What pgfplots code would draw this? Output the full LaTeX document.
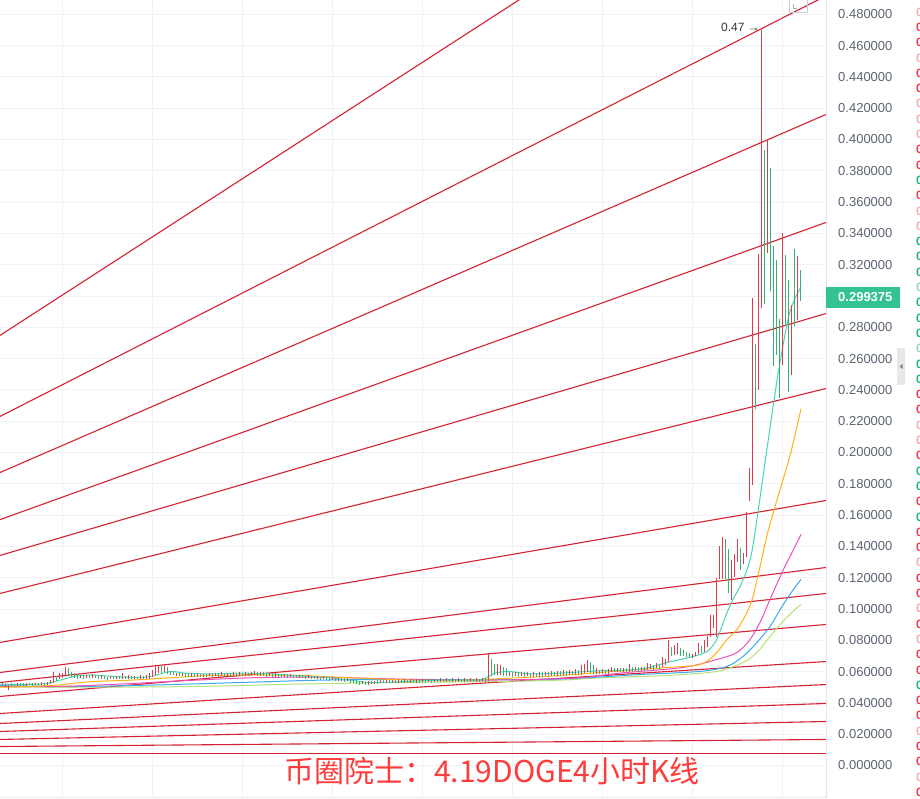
\documentclass[border=0pt]{standalone}
\usepackage{pgfplots}
\pgfplotsset{compat=1.18}
\usepackage{pgfplotstable}
\usepackage{fontspec}
\setmainfont{Liberation Sans}
\newfontfamily\cjk{Noto Sans CJK SC}

\definecolor{fan}{RGB}{212,34,50}
\definecolor{candleR}{RGB}{226,58,74}
\definecolor{candleG}{RGB}{54,178,112}
\definecolor{maTeal}{RGB}{70,214,184}
\definecolor{maOrange}{RGB}{255,178,20}
\definecolor{maPink}{RGB}{240,80,190}
\definecolor{maBlue}{RGB}{60,170,240}
\definecolor{maLime}{RGB}{182,226,122}
\definecolor{gridc}{RGB}{240,242,245}
\definecolor{tickc}{RGB}{92,100,114}
\definecolor{priceBox}{RGB}{51,194,145}
\definecolor{sideL}{RGB}{246,172,182}
\definecolor{sideR}{RGB}{236,58,84}
\definecolor{sideG}{RGB}{30,180,130}
\definecolor{sideT}{RGB}{140,220,196}
\definecolor{borderR}{RGB}{225,228,233}
\definecolor{borderB}{RGB}{232,235,239}
\definecolor{handleC}{RGB}{230,232,236}
\definecolor{captionC}{RGB}{255,60,60}

% red candles: x, low, high
\pgfplotstableread{
x lo hi
5 .0500 .0520
8 .0480 .0515
17 .0505 .0525
26 .0510 .0530
35 .0512 .0530
41 .0515 .0532
47 .0516 .0534
50 .0520 .0545
53 .0530 .0600
59 .0550 .0590
62 .0560 .0590
65 .0580 .0630
80 .0560 .0580
86 .0558 .0580
92 .0560 .0582
101 .0555 .0575
110 .0552 .0572
116 .0552 .0574
122 .0555 .0590
128 .0555 .0575
134 .0552 .0572
140 .0552 .0575
146 .0553 .0575
149 .0555 .0590
152 .0565 .0610
155 .0580 .0635
158 .0590 .0640
164 .0595 .0640
176 .0572 .0592
182 .0572 .0590
191 .0568 .0588
197 .0566 .0585
203 .0566 .0586
209 .0570 .0590
215 .0570 .0592
221 .0570 .0595
227 .0570 .0592
233 .0570 .0595
239 .0572 .0596
245 .0572 .0600
251 .0573 .0598
254 .0575 .0605
260 .0574 .0600
269 .0570 .0592
275 .0568 .0590
284 .0565 .0586
290 .0564 .0585
299 .0560 .0580
308 .0556 .0576
317 .0552 .0572
323 .0550 .0570
332 .0544 .0564
338 .0542 .0562
347 .0537 .0558
362 .0518 .0540
368 .0515 .0538
374 .0520 .0542
380 .0524 .0546
386 .0526 .0548
392 .0527 .0548
398 .0528 .0550
404 .0529 .0550
410 .0530 .0552
416 .0530 .0552
422 .0531 .0553
428 .0532 .0554
434 .0532 .0555
440 .0533 .0556
446 .0534 .0556
452 .0534 .0556
458 .0535 .0557
464 .0535 .0558
470 .0536 .0558
476 .0536 .0558
482 .0537 .0560
488 .0538 .0718
497 .0575 .0650
500 .0580 .0645
509 .0570 .0600
515 .0570 .0600
521 .0570 .0598
527 .0570 .0596
533 .0568 .0596
539 .0568 .0596
545 .0569 .0598
551 .0572 .0605
557 .0572 .0605
563 .0575 .0610
569 .0576 .0612
575 .0578 .0614
581 .0580 .0640
584 .0590 .0650
587 .0600 .0675
596 .0585 .0620
602 .0585 .0615
608 .0585 .0618
611 .0600 .0630
617 .0598 .0625
623 .0600 .0625
629 .0600 .0650
635 .0602 .0630
641 .0604 .0632
647 .0610 .0655
650 .0615 .0650
656 .0620 .0655
662 .0630 .0690
665 .0645 .0680
668 .0660 .0800
674 .0705 .0770
677 .0715 .0785
692 .0685 .0715
695 .0700 .0725
698 .0715 .0780
704 .0725 .0800
707 .0755 .0825
710 .0820 .0960
713 .0880 .0960
716 .0820 .1200
719 .1190 .1400
722 .1190 .1460
731 .1060 .1310
734 .1205 .1350
737 .1300 .1450
743 .1285 .1360
746 .1330 .1620
749 .1690 .1900
752 .1795 .2985
758 .2400 .3270
761 .2925 .4700
767 .3275 .4005
782 .2560 .3405
791 .2492 .2940
797 .2844 .3253
}\redc

% green candles: x, low, high
\pgfplotstableread{
x lo hi
2 .0505 .0525
11 .0505 .0525
14 .0508 .0522
20 .0510 .0528
23 .0508 .0524
29 .0512 .0528
32 .0510 .0526
38 .0514 .0528
44 .0515 .0530
56 .0540 .0570
68 .0570 .0620
71 .0565 .0600
74 .0560 .0590
77 .0555 .0585
83 .0555 .0578
89 .0556 .0576
95 .0556 .0575
98 .0552 .0572
104 .0550 .0570
107 .0548 .0568
113 .0550 .0568
119 .0550 .0570
125 .0552 .0572
131 .0550 .0570
137 .0550 .0568
143 .0550 .0570
161 .0590 .0640
167 .0585 .0630
170 .0580 .0605
173 .0575 .0595
179 .0570 .0590
185 .0568 .0588
188 .0565 .0585
194 .0565 .0582
200 .0564 .0582
206 .0565 .0584
212 .0568 .0588
218 .0568 .0588
224 .0568 .0590
230 .0567 .0588
236 .0568 .0590
242 .0570 .0592
248 .0570 .0592
257 .0572 .0595
263 .0570 .0594
266 .0568 .0590
272 .0566 .0588
278 .0565 .0586
281 .0563 .0584
287 .0562 .0582
293 .0560 .0580
296 .0558 .0578
302 .0556 .0576
305 .0554 .0574
311 .0552 .0572
314 .0550 .0570
320 .0548 .0568
326 .0545 .0566
329 .0542 .0562
335 .0540 .0560
341 .0538 .0558
344 .0535 .0556
350 .0530 .0552
353 .0525 .0548
356 .0520 .0545
359 .0515 .0540
365 .0512 .0536
371 .0518 .0540
377 .0522 .0544
383 .0525 .0545
389 .0525 .0545
395 .0526 .0546
401 .0527 .0548
407 .0528 .0548
413 .0528 .0548
419 .0529 .0550
425 .0530 .0550
431 .0530 .0550
437 .0531 .0551
443 .0532 .0552
449 .0532 .0552
455 .0533 .0553
461 .0533 .0553
467 .0534 .0554
473 .0534 .0554
479 .0535 .0555
485 .0536 .0556
491 .0570 .0680
494 .0575 .0650
503 .0570 .0630
506 .0570 .0625
512 .0568 .0598
518 .0568 .0596
524 .0568 .0594
530 .0566 .0592
536 .0566 .0592
542 .0567 .0594
548 .0568 .0596
554 .0570 .0600
560 .0572 .0602
566 .0574 .0605
572 .0575 .0605
578 .0576 .0608
590 .0590 .0660
593 .0585 .0640
599 .0582 .0612
605 .0583 .0612
614 .0595 .0620
620 .0596 .0620
626 .0598 .0622
632 .0600 .0628
638 .0600 .0626
644 .0602 .0628
653 .0610 .0640
659 .0615 .0645
671 .0700 .0760
680 .0700 .0750
683 .0700 .0735
686 .0690 .0725
689 .0695 .0720
701 .0720 .0765
725 .1180 .1450
728 .1100 .1380
740 .1250 .1390
755 .2275 .2695
764 .2950 .3935
770 .3030 .3820
773 .2555 .3320
776 .2620 .3233
779 .2345 .2855
785 .2810 .3265
788 .2385 .3100
794 .2805 .3300
800 .2965 .3166
}\greenc

\begin{document}
\begin{tikzpicture}[x=1pt,y=1pt]
\useasboundingbox (0,0) rectangle (920,798);
\fill[white] (0,0) rectangle (920,798);
\begin{axis}[
    at={(0,1)}, anchor=south west,
    scale only axis, width=826pt, height=797pt,
    xmin=0, xmax=826,
    ymin=-0.0198, ymax=0.4895,
    axis line style={draw=none},
    major tick length=0pt,
    xtick={62,152,242,332,422,512,602,692,782},
    xticklabels={},
    ytick={0,0.02,0.04,0.06,0.08,0.1,0.12,0.14,0.16,0.18,0.2,0.22,0.24,0.26,0.28,0.3,0.32,0.34,0.36,0.38,0.4,0.42,0.44,0.46,0.48},
    scaled y ticks=false,
    yticklabel pos=right,
    /pgf/number format/assume math mode=true,
    yticklabel style={/pgf/number format/.cd, fixed, fixed zerofill, precision=6, /tikz/.cd,
        font=\fontsize{13}{13}\selectfont, text=tickc, anchor=west, inner sep=0pt, xshift=12pt},
    xmajorgrids, ymajorgrids,
    grid style={draw=gridc, line width=0.9pt},
]
% fan lines
\pgfplotsset{fanline/.style={fan, line width=1.1pt, forget plot}}
\addplot[fanline] coordinates {(0,0.2748) (826,0.6160)};
\addplot[fanline] coordinates {(0,0.2230) (826,0.4918)};
\addplot[fanline] coordinates {(0,0.1872) (826,0.4160)};
\addplot[fanline] coordinates {(0,0.1571) (826,0.3470)};
\addplot[fanline] coordinates {(0,0.1342) (826,0.2888)};
\addplot[fanline] coordinates {(0,0.1099) (826,0.2409)};
\addplot[fanline] coordinates {(0,0.0786) (826,0.1693)};
\addplot[fanline] coordinates {(0,0.0594) (826,0.1265)};
\addplot[fanline] coordinates {(0,0.0530) (826,0.1099)};
\addplot[fanline] coordinates {(0,0.0441) (826,0.0901)};
\addplot[fanline] coordinates {(0,0.0332) (826,0.0664)};
\addplot[fanline] coordinates {(0,0.0268) (826,0.0517)};
\addplot[fanline] coordinates {(0,0.0217) (826,0.0396)};
\addplot[fanline] coordinates {(0,0.0166) (826,0.0281)};
\addplot[fanline] coordinates {(0,0.0121) (826,0.0166)};
\addplot[fanline, line width=1pt] coordinates {(0,0.0077) (826,0.0077)};

% moving averages
\addplot[maLime, line width=1pt, smooth] coordinates {(0,0.0500) (100,0.0500) (200,0.0505) (300,0.0520) (400,0.0530) (480,0.0535) (560,0.0545) (600,0.0560) (667,0.0575) (717,0.0601) (743,0.0658) (757,0.0722) (770,0.0824) (782,0.0914) (792,0.0978) (801,0.1029)};
\addplot[maBlue, line width=1pt, smooth] coordinates {(0,0.0510) (80,0.0505) (160,0.0515) (240,0.0530) (320,0.0545) (400,0.0550) (480,0.0548) (560,0.0552) (640,0.0581) (700,0.0601) (727,0.0633) (743,0.0697) (757,0.0786) (770,0.0888) (782,0.1016) (792,0.1112) (801,0.1189)};
\addplot[maPink, line width=1pt, smooth] coordinates {(0,0.0505) (60,0.0505) (120,0.0520) (180,0.0540) (250,0.0560) (320,0.0565) (380,0.0555) (450,0.0545) (520,0.0548) (580,0.0560) (620,0.0590) (683,0.0626) (717,0.0677) (737,0.0722) (750,0.0805) (760,0.0914) (770,0.1061) (782,0.1233) (792,0.1361) (801,0.1476)};
\addplot[maOrange, line width=1pt, smooth] coordinates {(0,0.0500) (30,0.0505) (60,0.0515) (90,0.0535) (130,0.0545) (170,0.0560) (200,0.0572) (250,0.0578) (300,0.0575) (350,0.0560) (400,0.0548) (450,0.0542) (500,0.0555) (550,0.0570) (600,0.0594) (667,0.0626) (700,0.0645) (715,0.0709) (727,0.0805) (737,0.0869) (747,0.0978) (753,0.1080) (760,0.1270) (767,0.1470) (775,0.1654) (790,0.1980) (801,0.2280)};
\addplot[maTeal, line width=1pt, smooth] coordinates {(0,0.0520) (20,0.0518) (45,0.0522) (60,0.0545) (75,0.0570) (90,0.0578) (110,0.0570) (130,0.0563) (150,0.0568) (170,0.0600) (185,0.0590) (210,0.0585) (240,0.0590) (270,0.0585) (300,0.0572) (330,0.0560) (350,0.0545) (370,0.0530) (400,0.0535) (440,0.0545) (480,0.0548) (495,0.0590) (510,0.0600) (530,0.0585) (560,0.0590) (600,0.0605) (640,0.0615) (667,0.0658) (693,0.0696) (707,0.0728) (715,0.0786) (720,0.0856) (727,0.0977) (733,0.1061) (740,0.1144) (747,0.1250) (752,0.1370) (758,0.1620) (768,0.2070) (778,0.2500) (788,0.2850) (794,0.2970) (801,0.3060)};

% candles (low to high)
\addplot[draw=none, forget plot, error bars/.cd, y dir=plus, y explicit, error mark=none,
    error bar style={draw=candleR, line width=1pt}]
    table[x=x, y=lo, y error expr=\thisrow{hi}-\thisrow{lo}] {\redc};
\addplot[draw=none, forget plot, error bars/.cd, y dir=plus, y explicit, error mark=none,
    error bar style={draw=candleG, line width=1pt}]
    table[x=x, y=lo, y error expr=\thisrow{hi}-\thisrow{lo}] {\greenc};

\node[anchor=east, font=\fontsize{12}{12}\selectfont, text=black!80, inner sep=0pt] at (axis cs:760,0.4716) {0.47 →};
\end{axis}

% borders
\draw[borderR, line width=1pt] (826,0) -- (826,798);
\draw[borderB, line width=1pt] (0,1) -- (826,1);

% last price tag
\fill[priceBox] (826,490) rectangle (900,511);
\node[anchor=west, inner sep=0pt, text=white, font=\bfseries\fontsize{13}{13}\selectfont] at (838,500.5) {0.299375};

% side handle
\fill[handleC] (897,413) rectangle (905,450);
\fill[gray] (899.5,431.5) -- (902.5,434) -- (902.5,429) -- cycle;

% top icon
\draw[gray!40, line width=0.6pt] (789,786) rectangle (807,800);
\draw[gray!60, line width=0.6pt] (793,794) -- (793,790) -- (797,790);

% clipped order book column
\foreach \c [count=\k from 0] in {L,R,R,L,R,R,L,L,L,R,R,G,R,L,L,G,G,G,T,G,G,G,T,G,G,R,R,L,L,R,G,G,R,G,R,R,L,R,R,L,R,L,R,R,G,R,R,L,R,R,L,R}
  \node[anchor=west, inner sep=0pt, text=side\c, font=\bfseries\fontsize{12}{12}\selectfont] at (916,{798-(12+15.3*\k)}) {0};

% caption
\node[text=captionC, font=\cjk\fontsize{30}{30}\selectfont, inner sep=0pt] at (492,27) {币圈院士：4.19DOGE4小时K线};
\end{tikzpicture}
\end{document}
